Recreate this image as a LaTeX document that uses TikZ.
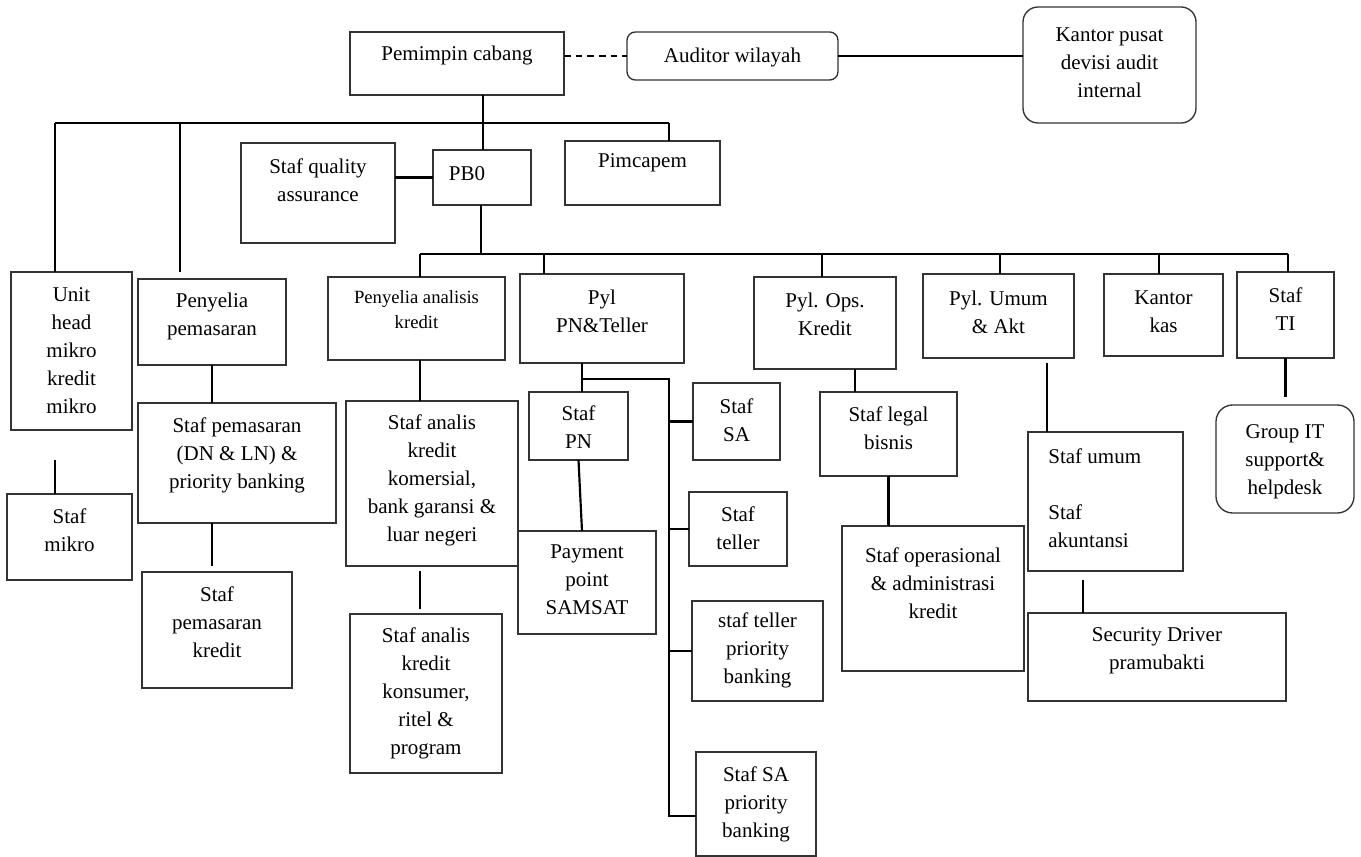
\documentclass[tikz,border=0pt]{standalone}
\usepackage{fontspec}
\setmainfont{Liberation Serif}
\usetikzlibrary{positioning}

\begin{document}
\begin{tikzpicture}[x=0.6pt,y=-0.6pt,
    orgframe/.style={draw=black!80,line width=0.8pt,rectangle,inner sep=0pt,outer sep=0pt},
    orgtext/.style={align=center,inner sep=0pt,font={\fontsize{12.6}{16.8}\selectfont}},
    link/.style={line width=1.3pt,black}]

\def\px{0.6pt}

% [frame options]{name}{x1}{y1}{x2}{y2}{text options}{text y}{text}
\newcommand\orgbox[9][]
{
    \node[orgframe,#1,minimum width={(#5-#3)*\px},minimum height={(#6-#4)*\px}]
        (#2) at ({(#3+#5)/2},{(#4+#6)/2}) {};
    \node[orgtext,#7] (#2-t) at ({(#3+#5)/2},#8) {#9};
}

\useasboundingbox (0,0) rectangle (1361,857);

% top level
\orgbox{pinca}{350}{32}{564}{95}{}{55}{Pemimpin cabang}
\orgbox[rounded corners=5pt]{aud}{627}{32}{838}{80}{}{57}{Auditor wilayah}
\orgbox[rounded corners=9pt]{kp}{1023}{7}{1196}{123}{}{63}{Kantor pusat\\devisi audit\\internal}
\orgbox{sqa}{241}{143}{395}{243}{}{180}{Staf quality\\assurance}
\orgbox{pbo}{433}{150}{531}{205}{xshift=-9pt}{174}{PB0}
\orgbox{pim}{565}{141}{720}{205}{}{163}{Pimcapem}

% left branches
\orgbox{uhm}{11}{272}{132}{430}{}{351}{Unit\\head\\mikro\\kredit\\mikro}
\orgbox{smk}{7}{494}{132}{580}{}{530}{Staf\\mikro}
\orgbox{ppem}{138}{279}{286}{365}{}{316}{Penyelia\\pemasaran}
\orgbox{spem}{138}{403}{336}{523}{}{455}{Staf pemasaran\\(DN \& LN) \&\\priority banking}
\orgbox{spk}{142}{572}{292}{688}{}{622}{Staf\\pemasaran\\kredit}

% under PB0
\orgbox{pak}{328}{277}{505}{360}{font={\fontsize{11.2}{15}\selectfont}}{310}{Penyelia analisis\\kredit}
\orgbox{sakk}{346}{401}{518}{566}{}{480}{Staf analis\\kredit\\komersial,\\bank garansi \&\\luar negeri}
\orgbox{sakn}{350}{614}{502}{773}{}{693}{Staf analis\\kredit\\konsumer,\\ritel \&\\program}
\orgbox{ppn}{520}{274}{684}{363}{}{311}{Pyl\\PN\&Teller}
\orgbox{spn}{529}{392}{628}{460}{}{427}{Staf\\PN}
\orgbox{pay}{518}{531}{656}{634}{}{580}{Payment\\point\\SAMSAT}
\orgbox{ssa}{693}{383}{780}{460}{}{420}{Staf\\SA}
\orgbox{stl}{689}{492}{787}{566}{}{528}{Staf\\teller}
\orgbox{stpb}{692}{601}{823}{701}{}{650}{staf teller\\priority\\banking}
\orgbox{ssapb}{696}{752}{816}{856}{}{804}{Staf SA\\priority\\banking}
\orgbox{pok}{754}{277}{896}{369}{}{314}{Pyl. Ops.\\Kredit}
\orgbox{slb}{820}{392}{957}{476}{}{428}{Staf legal\\bisnis}
\orgbox{sop}{842}{526}{1024}{671}{}{583}{Staf operasional\\\& administrasi\\kredit}
\orgbox{pua}{923}{274}{1074}{358}{}{312}{Pyl. Umum\\\& Akt}
\orgbox{sua}{1028}{432}{1183}{571}{anchor=west,align=left,xshift=-34.5pt}{498}{Staf umum\\\mbox{}\\Staf\\akuntansi}
\orgbox{sdp}{1028}{613}{1286}{701}{}{651}{Security Driver\\pramubakti}
\orgbox{kk}{1104}{274}{1223}{356}{}{312}{Kantor\\kas}
\orgbox{sti}{1237}{272}{1334}{358}{}{309}{Staf\\TI}
\orgbox[rounded corners=10pt]{git}{1216}{405}{1354}{513}{}{462}{Group IT\\support\&\\helpdesk}

% audit line
\draw[link,dash pattern=on 4pt off 3pt] (pinca.east |- aud.west) -- (aud.west);
\draw[link] (aud.east) -- (aud.east -| kp.west);

% upper bus
\coordinate (b1) at (483,123);
\coordinate (b1l) at (55,123);
\coordinate (b1p) at (180,123);
\coordinate (b1r) at (669,123);
\draw[link] (pinca.south -| b1) -- (b1);
\draw[link] (b1l) -- (b1r);
\draw[link] (b1l) -- (uhm.north -| b1l);
\draw[link,shorten >=4pt] (b1p) -- (ppem.north -| b1p);
\draw[link] (b1) -- (pbo.north -| b1);
\draw[link] (b1r) -- (pim.north -| b1r);
\draw[link] (sqa.east |- pbo.west) -- (pbo.west);

% lower bus
\coordinate (b2) at (481,254);
\coordinate (b2l) at (420,254);
\coordinate (b2r) at (1288,254);
\draw[link] (pbo.south -| b2) -- (b2);
\draw[link] (b2l) -- (b2r);
\foreach \x/\n in {420/pak,544/ppn,822/pok,1000/pua,1159/kk,1288/sti}
{
    \coordinate (d-\n) at (\x,254);
    \draw[link] (d-\n) -- (\n.north -| d-\n);
}

% left chains
\draw[link,shorten >=18pt] (smk.north -| b1l) -- (uhm.south -| b1l);
\draw[link] (ppem.south) -- (spem.north -| ppem.south);
\draw[link,shorten >=3.6pt] (spem.south -| ppem.south) -- (spk.north -| ppem.south);

% analis kredit
\draw[link] (pak.south -| b2l) -- (sakk.north -| b2l);
\draw[link,shorten <=3pt,shorten >=3pt] (sakk.south -| b2l) -- (sakn.north -| b2l);

% PN & teller
\coordinate (tr) at (582,379);
\coordinate (trr) at (669,379);
\coordinate (tre) at (669,816);
\draw[link] (ppn.south -| tr) -- (spn.north -| tr);
\draw[link] (tr) -- (trr) -- (tre) -- (tre -| ssapb.west);
\draw[link] (spn.south) -- (pay.north -| tr);
\foreach \n in {ssa,stl,stpb}
    \draw[link] (\n.west -| trr) -- (\n.west);

% ops kredit, umum, TI
\draw[link] ([xshift=18pt]pok.south) coordinate (ok) -- (ok |- slb.north);
\draw[link] (slb.south) -- (sop.north -| slb.south);
\draw[link,shorten <=3pt] ([xshift=29pt]pua.south) coordinate (ua) -- (ua |- sua.north);
\draw[link,shorten >=5.4pt] ([xshift=-44.4pt]sdp.north) coordinate (us) -- (us |- sua.south);
\draw[link,shorten >=4.8pt] (sti.south) -- (git.north -| sti.south);

\end{tikzpicture}
\end{document}
